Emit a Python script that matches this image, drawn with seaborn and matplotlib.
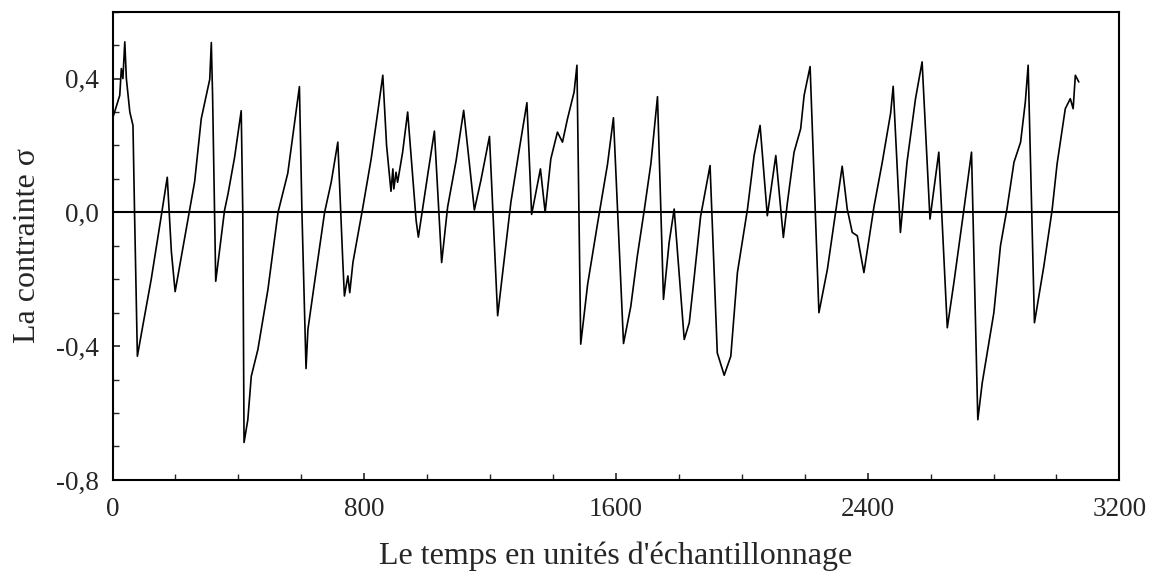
import matplotlib
matplotlib.use("Agg")
import matplotlib.pyplot as plt
from matplotlib.ticker import MultipleLocator, FuncFormatter
import seaborn as sns
import pandas as pd

temps = [0, 23, 28, 33, 39, 44, 55, 65, 70, 79, 97, 123, 155, 174, 187, 199,
         229, 261, 282, 309, 314, 318, 328, 356, 367, 388, 409, 414, 418, 430,
         441, 462, 494, 526, 557, 594, 602, 615, 621, 642, 674, 695, 716, 732,
         737, 748, 754, 764, 795, 822, 843, 859, 871, 885, 891, 894, 901, 906,
         922, 938, 965, 972, 1002, 1023, 1046, 1065, 1092, 1116, 1150, 1171,
         1198, 1224, 1245, 1266, 1293, 1317, 1332, 1360, 1375, 1393, 1414,
         1430, 1446, 1467, 1476, 1488, 1510, 1541, 1573, 1592, 1624, 1647,
         1668, 1690, 1711, 1732, 1751, 1769, 1785, 1817, 1833, 1848, 1869,
         1899, 1922, 1944, 1965, 1986, 2018, 2039, 2058, 2081, 2108, 2132,
         2145, 2166, 2187, 2198, 2217, 2245, 2272, 2298, 2319, 2335, 2351,
         2367, 2388, 2420, 2446, 2473, 2481, 2504, 2525, 2552, 2573, 2598,
         2626, 2653, 2674, 2706, 2730, 2750, 2764, 2801, 2822, 2843, 2865,
         2886, 2901, 2910, 2930, 2960, 2986, 3002, 3028, 3044, 3053, 3060, 3071]
contrainte = [0.28, 0.35, 0.43, 0.40, 0.51, 0.40, 0.30, 0.26, 0.0, -0.43, -0.335,
              -0.20, -0.01, 0.105, -0.117, -0.237, -0.078, 0.092, 0.28, 0.398,
              0.508, 0.35, -0.206, 0.006, 0.055, 0.165, 0.304, 0.0, -0.688, -0.62,
              -0.49, -0.41, -0.23, 0.0, 0.117, 0.376, 0.0, -0.467, -0.35, -0.21,
              0.0, 0.09, 0.21, -0.15, -0.25, -0.19, -0.24, -0.15, 0.012, 0.16,
              0.30, 0.41, 0.20, 0.063, 0.13, 0.07, 0.12, 0.09, 0.18, 0.30, -0.025,
              -0.074, 0.114, 0.243, -0.15, 0.016, 0.155, 0.305, 0.007, 0.097,
              0.227, -0.309, -0.14, 0.03, 0.19, 0.328, -0.006, 0.13, 0.0, 0.16,
              0.24, 0.21, 0.28, 0.36, 0.44, -0.394, -0.215, -0.036, 0.143, 0.283,
              -0.392, -0.282, -0.13, 0.007, 0.146, 0.346, -0.26, -0.09, 0.01,
              -0.38, -0.33, -0.20, -0.012, 0.14, -0.42, -0.487, -0.43, -0.18,
              0.01, 0.17, 0.26, -0.01, 0.17, -0.075, 0.03, 0.18, 0.25, 0.35,
              0.436, -0.30, -0.17, 0.0, 0.138, 0.01, -0.06, -0.07, -0.18, 0.017,
              0.148, 0.297, 0.377, -0.06, 0.15, 0.34, 0.45, -0.02, 0.18, -0.345,
              -0.21, 0.01, 0.18, -0.62, -0.51, -0.30, -0.10, 0.012, 0.15, 0.21,
              0.33, 0.44, -0.33, -0.16, 0.006, 0.145, 0.31, 0.34, 0.31, 0.41, 0.39]

x_ticks = [0, 800, 1600, 2400, 3200]
y_ticks = [-0.8, -0.4, 0.0, 0.4]

df = pd.DataFrame({"temps": temps, "contrainte": contrainte})

sns.set_style("ticks")
plt.rcParams["font.family"] = ["Liberation Serif", "DejaVu Serif"]

fig = plt.figure(figsize=(11.6, 5.86), dpi=100)
ax = fig.add_axes([0.097, 0.181, 0.868, 0.799])

sns.lineplot(data=df, x="temps", y="contrainte", color="black", linewidth=1.2, ax=ax)
ax.axhline(0, color="black", linewidth=1.5)

ax.set_xlim(0, 3200)
ax.set_ylim(-0.8, 0.6)
ax.set_xticks(x_ticks)
ax.set_yticks(y_ticks)
ax.xaxis.set_minor_locator(MultipleLocator(200))
ax.yaxis.set_minor_locator(MultipleLocator(0.1))
ax.xaxis.set_major_formatter(FuncFormatter(lambda v, p: f"{v:.0f}"))
ax.yaxis.set_major_formatter(FuncFormatter(lambda v, p: f"{v:.1f}".replace(".", ",")))
ax.tick_params(which="major", direction="in", length=5, width=1.2, labelsize=19.5, pad=10)
ax.tick_params(which="minor", direction="in", length=4, width=1.0)
ax.tick_params(axis="x", which="major", pad=12)

for s in ax.spines.values():
    s.set_linewidth(1.5)
    s.set_color("black")

ax.set_xlabel("Le temps en unités d'échantillonnage", fontsize=23, labelpad=14)
ax.set_ylabel("La contrainte σ", fontsize=23, labelpad=10)

fig.savefig("out.png", dpi=100, facecolor="white")
